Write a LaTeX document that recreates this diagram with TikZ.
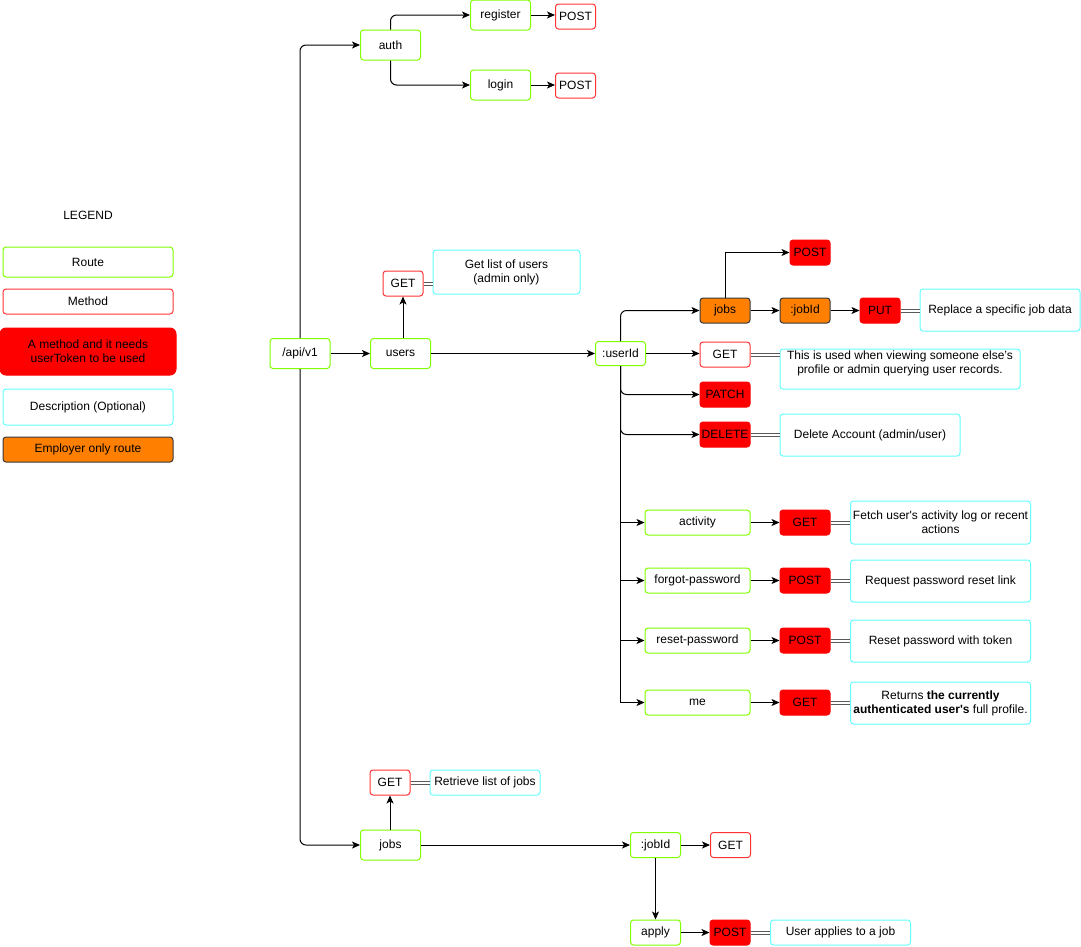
\documentclass[tikz,border=0pt]{standalone}
\usepackage{fontspec}
\setmainfont{Liberation Sans}[Ligatures=TeXOff]
\usetikzlibrary{arrows.meta}

\definecolor{routegreen}{HTML}{80FF00}
\definecolor{methodred}{HTML}{FF3333}
\definecolor{desccyan}{HTML}{66FFFF}
\definecolor{emporange}{HTML}{FF8000}
\definecolor{empborder}{HTML}{36393D}

\tikzset{
  box/.style={rounded corners=3pt, inner sep=1pt, align=center, line width=1pt,
    font=\fontsize{12}{14}\selectfont},
  wh/.style 2 args={minimum width=#1pt, minimum height=#2pt},
  route/.style={box, draw=routegreen},
  method/.style={box, draw=methodred},
  authmethod/.style={box, draw=red, fill=red},
  desc/.style={box, draw=desccyan},
  employer/.style={box, draw=empborder, fill=emporange},
  arr/.style={-{Stealth[length=8pt,width=7pt,inset=2pt]}, line width=1pt, rounded corners=6pt},
  link/.style={draw=black!65, line width=1pt, double=white, double distance=2pt},
}

\begin{document}
\begin{tikzpicture}[x=1pt, y=-1pt]
    \useasboundingbox (0,0) rectangle (1081,946);

    % legend
    \node[font=\fontsize{12}{14}\selectfont] (legend) at (88,215) {LEGEND};
    \node[route, wh={170}{30}] (lroute) at (88,262) {Route};
    \node[method, wh={170}{25}] (lmethod) at (88,301.5) {Method};
    \node[authmethod, wh={176}{47}, rounded corners=6pt] (lauth) at (88,351.5) {A method and it needs\\userToken to be used};
    \node[desc, wh={170}{36}] (ldesc) at (88,407) {Description (Optional)};
    \node[employer, wh={170}{25}] (lemp) at (88,449.5) {Employer only route};

    % root and auth
    \node[route, wh={60}{30}] (api) at (300,353.5) {/api/v1};
    \node[route, wh={60}{30}] (auth) at (390.5,45) {auth};
    \node[route, wh={60}{30}] (register) at (500.5,15) {register};
    \node[method, wh={40}{25}] (regpost) at (575.5,16.5) {POST};
    \node[route, wh={60}{30}] (login) at (500.5,85) {login};
    \node[method, wh={40}{25}] (logpost) at (575.5,85.5) {POST};

    % users
    \node[route, wh={60}{30}] (users) at (400.5,353.5) {users};
    \node[method, wh={40}{25}] (usersget) at (403,283.5) {GET};
    \node[desc, wh={147}{44}] (usersdesc) at (506.5,272) {Get list of users\\(admin only)};
    \node[route, wh={50}{24}] (userid) at (620.5,353.5) {:userId};

    \node[employer, wh={50}{25}] (ujobs) at (725,310.5) {jobs};
    \node[authmethod, wh={40}{25}] (ujobspost) at (810,252.5) {POST};
    \node[employer, wh={50}{25}] (ujobid) at (805,310.5) {:jobId};
    \node[authmethod, wh={40}{25}] (ujobput) at (880,310.5) {PUT};
    \node[desc, wh={160}{42}] (ujobputdesc) at (1000,310) {Replace a specific job data};

    \node[method, wh={50}{25}] (uget) at (725,354.5) {GET};
    \node[desc, wh={240}{40}, text depth=14pt] (ugetdesc) at (900,369) {This is used when viewing someone else’s\\profile or admin querying user records.};
    \node[authmethod, wh={50}{25}] (upatch) at (725,394.5) {PATCH};
    \node[authmethod, wh={50}{25}] (udelete) at (725,434.5) {DELETE};
    \node[desc, wh={180}{42}] (udeletedesc) at (870,435) {Delete Account (admin/user)};

    \node[route, wh={105}{25}] (activity) at (697.5,522.5) {activity};
    \node[authmethod, wh={50}{25}] (actget) at (805,522.5) {GET};
    \node[desc, wh={180}{43}] (actdesc) at (940.5,522.5) {Fetch user's activity log or recent\\actions};
    \node[route, wh={105}{25}] (forgot) at (697.5,580.5) {forgot-password};
    \node[authmethod, wh={50}{25}] (forgotpost) at (805,580.5) {POST};
    \node[desc, wh={180}{42}] (forgotdesc) at (940.5,581) {Request password reset link};
    \node[route, wh={105}{25}] (reset) at (697.5,640.5) {reset-password};
    \node[authmethod, wh={50}{25}] (resetpost) at (805,640.5) {POST};
    \node[desc, wh={180}{42}] (resetdesc) at (940.5,641) {Reset password with token};
    \node[route, wh={105}{25}] (me) at (697.5,702.5) {me};
    \node[authmethod, wh={50}{25}] (meget) at (805,702.5) {GET};
    \node[desc, wh={180}{42}] (medesc) at (940.5,703) {Returns \textbf{the currently}\\\textbf{authenticated user's} full profile.};

    % jobs
    \node[route, wh={60}{30}] (jobs) at (390.5,845) {jobs};
    \node[method, wh={40}{25}] (jobsget) at (390,782.5) {GET};
    \node[desc, wh={110}{25}] (jobsgetdesc) at (485,782.5) {Retrieve list of jobs};
    \node[route, wh={50}{25}] (jobid) at (655.5,845) {:jobId};
    \node[method, wh={40}{25}] (jobidget) at (730.5,845) {GET};
    \node[route, wh={50}{25}] (apply) at (655.5,932.5) {apply};
    \node[authmethod, wh={40}{25}] (applypost) at (730,932.5) {POST};
    \node[desc, wh={140}{25}] (applydesc) at (840.5,932.5) {User applies to a job};

    % connectors
    \draw[arr] (api) -- (users);
    \draw[arr] (api.north) |- (auth.west);
    \draw[arr] (api.south) |- (jobs.west);
    \draw[arr] (auth.north) |- (register.west);
    \draw[arr] (auth.south) |- (login.west);
    \draw[arr] (register.east) -- (register.east -| regpost.west);
    \draw[arr] (login.east) -- (login.east -| logpost.west);

    \draw[arr] (usersget.south |- users.north) -- (usersget.south);
    \draw[link] (usersget.east) -- (usersget.east -| usersdesc.west);
    \draw[arr] (users) -- (userid);

    \draw[arr] (userid.north) |- (ujobs.west);
    \draw[arr] (userid.east) -- (userid.east -| uget.west);
    \draw[arr] (userid.south) |- (upatch.west);
    \draw[arr] (userid.south) |- (udelete.west);
    \draw[arr, rounded corners=0pt] (ujobs.north) |- (ujobspost.west);
    \draw[arr] (ujobs) -- (ujobid);
    \draw[arr] (ujobid) -- (ujobput);
    \draw[link] (ujobput.east) -- (ujobput.east -| ujobputdesc.west);
    \draw[link] (uget.east) -- (uget.east -| ugetdesc.west);
    \draw[link] (udelete.east) -- (udelete.east -| udeletedesc.west);

    \foreach \r/\m/\d in {activity/actget/actdesc, forgot/forgotpost/forgotdesc,
                          reset/resetpost/resetdesc, me/meget/medesc} {
        \draw[arr, rounded corners=0pt] (userid.south) |- (\r.west);
        \draw[arr] (\r) -- (\m);
        \draw[link] (\m.east) -- (\m.east -| \d.west);
    }

    \draw[arr] (jobsget.south |- jobs.north) -- (jobsget.south);
    \draw[link] (jobsget) -- (jobsgetdesc);
    \draw[arr] (jobs) -- (jobid);
    \draw[arr] (jobid) -- (jobidget);
    \draw[arr] (jobid) -- (apply);
    \draw[arr] (apply) -- (applypost);
    \draw[link] (applypost) -- (applydesc);
\end{tikzpicture}
\end{document}
